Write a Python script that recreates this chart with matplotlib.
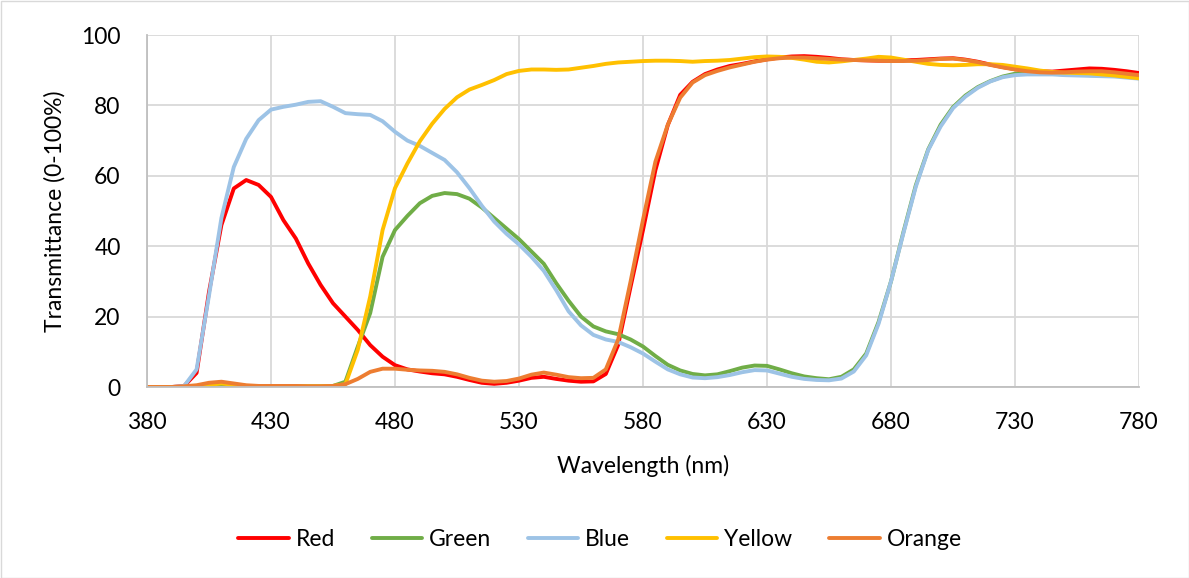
import numpy as np
import matplotlib
matplotlib.use("Agg")
from matplotlib import pyplot as plt
from matplotlib.patches import Rectangle

plt.rcParams['font.family'] = ['Lato', 'DejaVu Sans']

# wavelength grid (nm), 5 nm steps
wavelength = list(range(380, 781, 5))

red = [0, 0, 0, 0.3, 4, 27, 46, 56.4, 58.8, 57.4, 54, 47.4, 42.2, 35.1, 29, 23.8, 20, 16.2,
       11.9, 8.6, 6.2, 5, 4.4, 3.9, 3.6, 2.9, 2, 1.2, 0.9, 1.2, 1.8, 2.6, 2.9, 2.3, 1.8, 1.5,
       1.6, 3.7, 12, 28.5, 44.6, 61.6, 74.4, 83, 86.7, 88.9, 90.2, 91.2, 91.8, 92.5, 93.1,
       93.6, 93.9, 94, 93.8, 93.5, 93.1, 92.9, 92.8, 92.7, 92.7, 92.8, 92.9, 93.1, 93.3, 93.4,
       93, 92.4, 91.6, 90.9, 90.3, 89.9, 89.7, 89.6, 89.9, 90.2, 90.5, 90.4, 90.1, 89.7, 89.2]

green = [0, 0, 0, 0, 0.2, 0.5, 0.8, 0.5, 0.3, 0.2, 0.2, 0.2, 0.2, 0.2, 0.2, 0.3, 1.5, 11.5,
         21, 37, 44.6, 48.6, 52.2, 54.3, 55.1, 54.8, 53.5, 51, 48, 45, 42, 38.5, 35, 29.5,
         24.5, 20, 17.2, 15.8, 15, 13.5, 11.5, 8.8, 6.3, 4.7, 3.7, 3.3, 3.6, 4.5, 5.5, 6.1, 6,
         5, 3.9, 3, 2.5, 2.2, 2.9, 5, 9.5, 18.5, 30, 44, 57.3, 67.5, 74.5, 79.5, 82.8, 85.2,
         86.9, 88.2, 89, 89.2, 89.1, 89, 88.8, 88.8, 88.6, 88.5, 88.4, 88.2, 88]

blue = [0, 0, 0, 0.3, 5, 26, 48, 62.5, 70.5, 75.8, 78.8, 79.6, 80.2, 81, 81.2, 79.6, 77.8, 77.5,
        77.3, 75.5, 72.5, 70, 68.5, 66.5, 64.5, 61, 56.5, 51.5, 47, 43.5, 40.5, 37, 33, 27.5,
        21.5, 17.5, 14.8, 13.5, 12.8, 11.3, 9.5, 7.2, 5, 3.6, 2.7, 2.5, 2.8, 3.4, 4.2, 4.8,
        4.7, 3.8, 2.9, 2.3, 2, 1.9, 2.4, 4.4, 9, 18, 30, 43.7, 56.9, 67.3, 74, 79.2, 82.5, 85,
        86.8, 88, 88.6, 88.8, 88.8, 88.8, 88.6, 88.5, 88.4, 88.3, 88.2, 87.9, 87.6]

yellow = [0, 0, 0, 0, 0.2, 0.6, 1, 0.6, 0.3, 0.2, 0.2, 0.2, 0.2, 0.2, 0.2, 0.3, 0.8, 10.6,
          25.7, 44.6, 56.5, 63.5, 69.8, 74.8, 79, 82.3, 84.5, 85.8, 87.2, 88.9, 89.8, 90.2,
          90.2, 90.1, 90.2, 90.7, 91.2, 91.8, 92.2, 92.4, 92.6, 92.7, 92.7, 92.6, 92.4, 92.6,
          92.7, 92.9, 93.3, 93.7, 93.9, 93.8, 93.5, 93, 92.4, 92.2, 92.5, 92.9, 93.3, 93.8,
          93.6, 93, 92.4, 91.8, 91.5, 91.4, 91.5, 91.7, 91.7, 91.5, 91, 90.5, 89.9, 89.5, 89.3,
          89.2, 89.1, 88.8, 88.5, 88.1, 87.7]

orange = [0, 0, 0, 0.2, 0.5, 1.2, 1.5, 1, 0.5, 0.3, 0.3, 0.3, 0.3, 0.2, 0.2, 0.3, 0.8, 2.3,
          4.3, 5.2, 5.2, 4.9, 4.7, 4.6, 4.3, 3.6, 2.6, 1.8, 1.5, 1.7, 2.4, 3.5, 4.1, 3.5, 2.8,
          2.5, 2.6, 5, 13.5, 30, 47.5, 64, 74.5, 82.2, 86.5, 88.6, 89.8, 90.8, 91.6, 92.4, 93,
          93.4, 93.6, 93.6, 93.4, 93.2, 93, 92.9, 92.8, 92.7, 92.6, 92.6, 92.7, 92.9, 93.2,
          93.3, 92.9, 92.3, 91.5, 90.8, 90.2, 89.7, 89.4, 89.3, 89.4, 89.6, 89.7, 89.7, 89.4,
          89, 88.6]

series = [("Red", red, "#FF0000"), ("Green", green, "#70AD47"), ("Blue", blue, "#9DC3E6"),
          ("Yellow", yellow, "#FFC000"), ("Orange", orange, "#ED7D31")]

FS = 16.5

fig = plt.figure(figsize=(11.89, 5.78), dpi=100)
ax = fig.add_axes([147/1189, 1-387/578, (1139-147)/1189, (387-35)/578])

for name, vals, col in series:
    ax.plot(wavelength, vals, color=col, lw=2.8, label=name,
            solid_capstyle='round', solid_joinstyle='round')

ax.set_xlim(380, 780)
ax.set_ylim(0, 100)
ax.set_xticks(range(380, 781, 50))
ax.set_yticks(range(0, 101, 20))
ax.grid(True, color='#D9D9D9', lw=1.3)
ax.set_axisbelow(True)
for s in ['top', 'right']:
    ax.spines[s].set_visible(False)
for s in ['left', 'bottom']:
    ax.spines[s].set_color('#BFBFBF')
    ax.spines[s].set_linewidth(1.3)
ax.tick_params(length=0, labelsize=FS, colors='#000000')
ax.tick_params(axis='y', pad=19)
ax.tick_params(axis='x', pad=18)

# axis titles placed in pixel terms of the 1189x578 canvas
fig.text(643/1189, 1-466/578, "Wavelength (nm)", fontsize=FS, ha='center', va='center')
fig.text(55/1189, 1-211/578, "Transmittance (0-100%)", fontsize=FS, ha='center', va='center',
         rotation=90)

leg = fig.legend(loc='center', bbox_to_anchor=(600/1189, 1-540/578), ncol=5, frameon=False,
                 fontsize=FS, handlelength=2.2, columnspacing=1.6, handletextpad=0.3)

fig.patches.append(Rectangle((0.5/1189, 0.5/578), 1-1/1189, 1-1/578, transform=fig.transFigure,
                             fill=False, edgecolor='#D9D9D9', lw=1))

fig.savefig("out.png", dpi=100)
